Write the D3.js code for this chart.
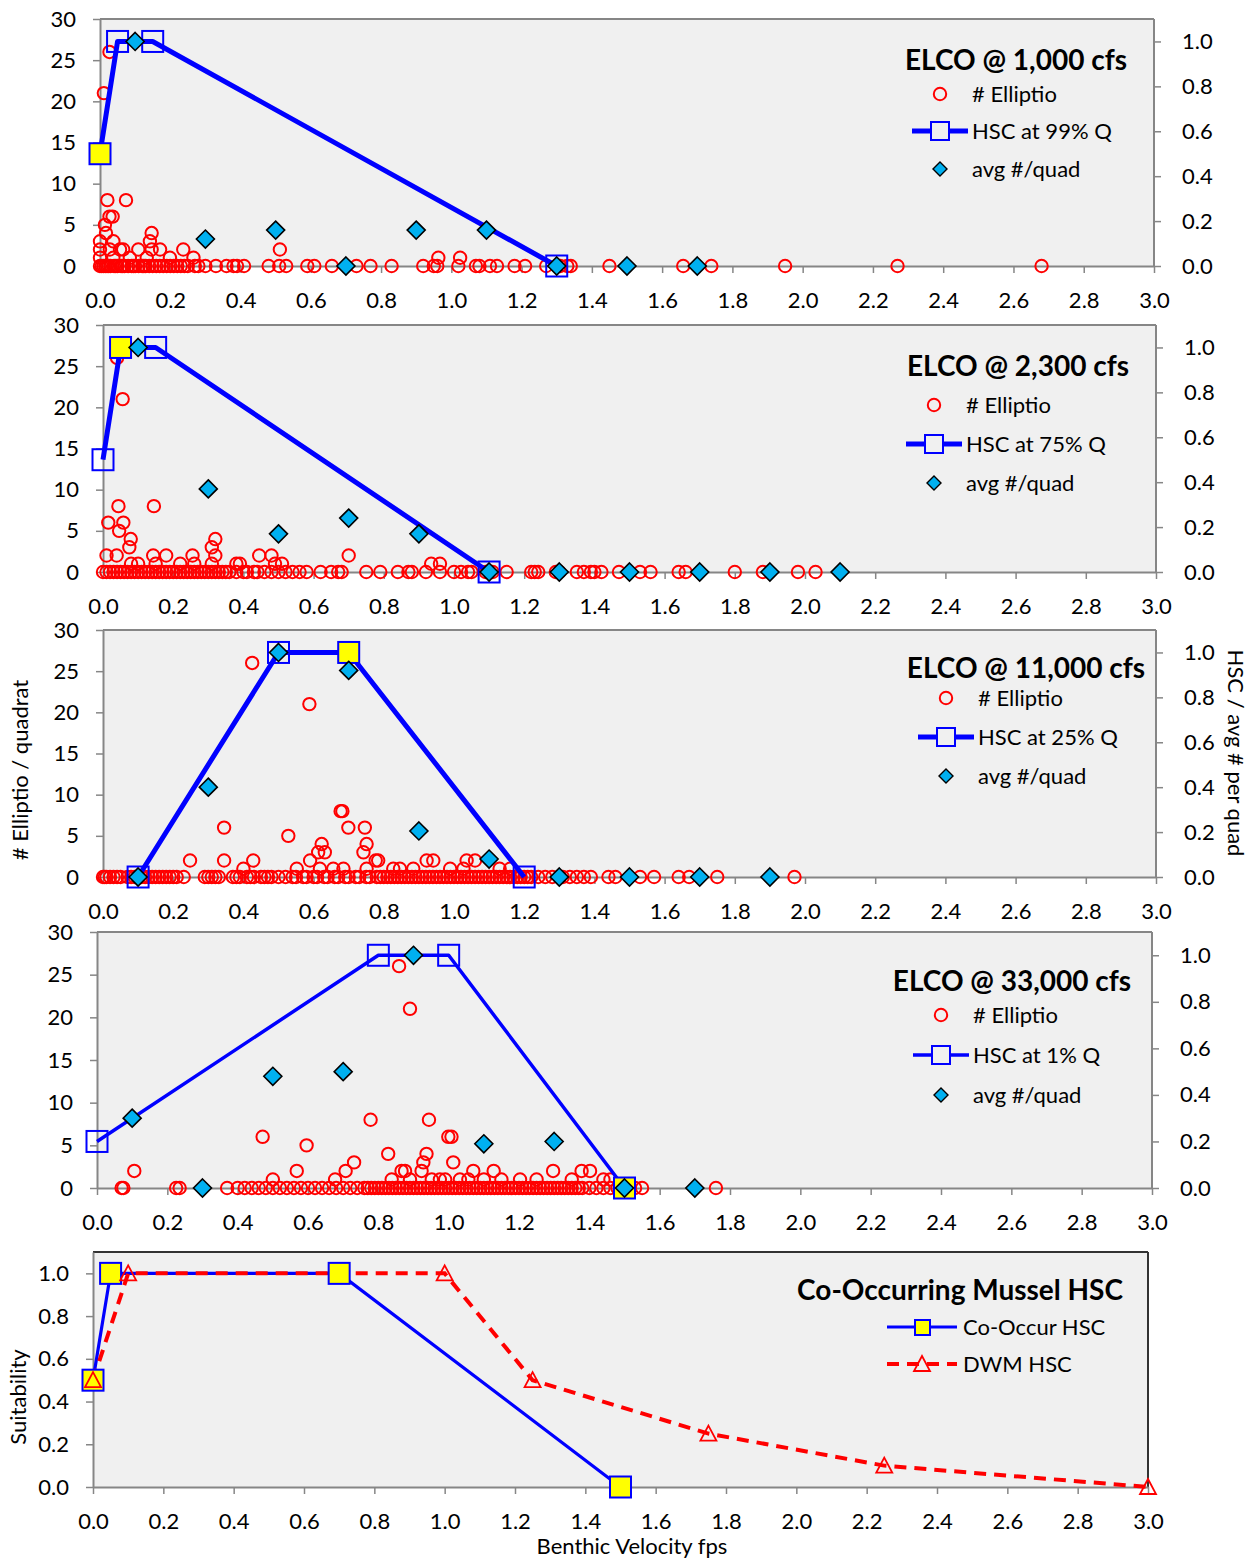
<!DOCTYPE html>
<html>
<head>
<meta charset="utf-8">
<script src="https://cdn.jsdelivr.net/npm/d3@7/dist/d3.min.js"></script>
<style>
body { margin: 0; background: #fff; }
svg text { font-family: Lato, "Open Sans", sans-serif; fill: #000; }
</style>
</head>
<body>
<script>
// ---- data ----
var xTicks = [0,0.2,0.4,0.6,0.8,1.0,1.2,1.4,1.6,1.8,2.0,2.2,2.4,2.6,2.8,3.0];
var leftTicks = [0,5,10,15,20,25,30];
var rightTicks = [0,0.2,0.4,0.6,0.8,1.0];

// panel 1: 1,000 cfs
var zeros1 = [0,0.005,0.01,0.015,0.02,0.025,0.03,0.04,0.045,0.05,0.06,0.065,0.07,0.08,0.09,0.095,0.1,0.11,0.12,0.125,0.13,0.14,0.15,0.16,0.17,0.18,0.19,0.2,0.21,0.22,0.23,0.24,0.25,0.27,0.28,
  0.3,0.33,0.36,0.38,0.39,0.41,0.48,0.51,0.53,0.59,0.61,0.66,0.73,0.77,0.83,0.92,0.95,0.96,1.02,1.07,1.08,1.11,1.13,1.18,1.21,1.27,1.31,1.33,1.34,1.45,1.66,1.74,1.95,2.27,2.68];
var counts1 = [[0.027,26],[0.011,21],[0.021,8],[0.074,8],[0.027,6],[0.036,6],[0.014,5],[0.017,4],[0.147,4],[0.0,3],[0.038,3],[0.142,3],
  [0.0,2],[0.028,2],[0.057,2],[0.066,2],[0.109,2],[0.147,2],[0.171,2],[0.237,2],[0.512,2],
  [0.0,1],[0.038,1],[0.085,1],[0.133,1],[0.199,1],[0.266,1],[0.963,1],[1.025,1]];
var hscV1 = [0,0.05,0.15,1.3];
var hscS1 = [0.5,1,1,0];
var avgV1 = [0.1,0.3,0.5,0.7,0.9,1.1,1.3,1.5,1.7];
var avg1 = [1.0,0.12,0.16,0,0.16,0.16,0,0,0];

// panel 2: 2,300 cfs
var zeros2 = [0,0.01,0.02,0.03,0.04,0.05,0.06,0.07,0.08,0.09,0.1,0.11,0.12,0.13,0.14,0.15,0.16,0.17,0.18,0.19,0.2,0.21,0.22,0.23,0.24,0.25,0.26,0.27,0.28,0.29,0.3,0.31,0.32,0.33,0.34,0.35,0.36,0.38,0.4,0.41,0.43,0.44,0.46,0.48,0.5,0.52,0.54,0.56,0.58,
  0.62,0.65,0.67,0.68,0.75,0.79,0.84,0.87,0.88,0.92,0.96,1.0,1.02,1.04,1.05,1.09,1.11,1.15,1.22,1.23,1.24,1.29,1.3,1.35,1.37,1.39,1.4,1.42,1.47,1.53,1.56,1.64,1.66,1.8,1.88,1.98,2.03];
var counts2 = [[0.04,26],[0.056,21],[0.044,8],[0.145,8],[0.015,6],[0.058,6],[0.046,5],[0.079,4],[0.32,4],[0.075,3],[0.31,3],
  [0.32,2],[0.01,2],[0.039,2],[0.143,2],[0.18,2],[0.255,2],[0.445,2],[0.48,2],[0.7,2],
  [0.935,1],[0.96,1],[0.08,1],[0.1,1],[0.15,1],[0.22,1],[0.26,1],[0.31,1],[0.38,1],[0.39,1],[0.49,1],[0.51,1]];
var hscV2 = [0,0.05,0.15,1.1];
var hscS2 = [0.5,1,1,0];
var avgV2 = [0.1,0.3,0.5,0.7,0.9,1.1,1.3,1.5,1.7,1.9,2.1];
var avg2 = [1.0,0.37,0.17,0.24,0.17,0,0,0,0,0,0];

// panel 3: 11,000 cfs
var zeros3 = [0,0.005,0.01,0.02,0.03,0.04,0.05,0.07,0.08,0.09,0.11,0.12,0.13,0.14,0.15,0.16,0.17,0.18,0.19,0.2,0.21,0.23,0.29,0.3,0.31,0.32,0.33,0.37,0.38,0.39,0.41,0.42,0.43,0.45,0.46,0.47,0.48,0.5,
  0.52,0.54,0.55,0.57,0.58,0.6,0.61,0.63,0.64,0.66,0.67,0.69,0.7,0.72,0.73,0.75,0.76,0.78,0.79,0.8,0.81,0.82,0.83,0.84,0.85,0.86,0.87,0.88,0.89,0.9,0.91,0.92,0.93,0.94,0.95,0.96,0.97,0.98,0.99,1.0,
  1.01,1.02,1.03,1.04,1.05,1.06,1.07,1.08,1.09,1.1,1.11,1.12,1.13,1.14,1.15,1.16,1.17,1.18,1.19,1.2,1.21,1.22,1.24,1.26,1.28,1.3,1.31,1.33,1.35,1.37,1.39,1.44,1.46,1.53,1.57,1.64,1.67,1.75,1.97];
var counts3 = [[0.425,26],[0.588,21],[0.682,8],[0.677,8],[0.345,6],[0.699,6],[0.746,6],[0.528,5],[0.751,4],[0.623,4],[0.613,3],[0.632,3],[0.742,3],
  [0.248,2],[0.345,2],[0.428,2],[0.59,2],[0.777,2],[0.784,2],[0.922,2],[0.941,2],[1.036,2],[1.06,2],
  [0.4,1],[0.552,1],[0.618,1],[0.656,1],[0.685,1],[0.751,1],[0.827,1],[0.846,1],[0.884,1],[0.989,1],[1.027,1],[1.13,1],[1.16,1]];
var hscV3 = [0.1,0.5,0.7,1.2];
var hscS3 = [0,1,1,0];
var avgV3 = [0.1,0.3,0.5,0.7,0.9,1.1,1.3,1.5,1.7,1.9];
var avg3 = [0,0.4,1.0,0.92,0.205,0.08,0,0,0,0];

// panel 4: 33,000 cfs
var zeros4 = [0.07,0.075,0.225,0.235,0.37,0.4,0.42,0.44,0.46,0.48,0.5,0.52,0.54,0.56,0.58,0.6,0.62,0.64,0.66,0.68,0.7,0.72,0.74,0.76,0.77,0.78,0.79,0.8,0.81,0.82,0.83,0.84,0.85,0.86,0.87,0.88,0.89,0.9,
  0.91,0.92,0.93,0.94,0.95,0.96,0.97,0.98,0.99,1.0,1.01,1.02,1.03,1.04,1.05,1.06,1.07,1.08,1.09,1.1,1.11,1.12,1.13,1.14,1.15,1.16,1.17,1.18,1.19,1.2,1.21,1.22,1.23,1.24,1.25,1.26,1.27,1.28,1.29,1.3,
  1.31,1.32,1.33,1.34,1.35,1.36,1.37,1.38,1.4,1.42,1.44,1.46,1.48,1.51,1.53,1.55,1.76];
var counts4 = [[0.859,26],[0.89,21],[0.778,8],[0.944,8],[0.471,6],[0.999,6],[1.008,6],[0.596,5],[0.828,4],[0.937,4],[1.013,3],[0.928,3],[0.731,3],
  [0.106,2],[0.568,2],[0.707,2],[0.923,2],[0.866,2],[0.876,2],[1.07,2],[1.128,2],[1.297,2],[1.378,2],[1.402,2],
  [0.5,1],[0.677,1],[0.838,1],[0.89,1],[0.952,1],[0.975,1],[0.99,1],[1.032,1],[1.056,1],[1.1,1],[1.15,1],[1.203,1],[1.25,1],[1.35,1],[1.44,1],[1.46,1]];
var hscV4 = [0,0.8,1.0,1.5];
var hscS4 = [0.2,1,1,0];
var avgV4 = [0.1,0.3,0.5,0.7,0.9,1.1,1.3,1.5,1.7];
var avg4 = [0.3,0,0.48,0.5,1.0,0.19,0.2,0,0];

// panel 5: co-occurring mussel HSC
var coV = [0,0.05,0.7,1.5];
var coS = [0.5,1,1,0];
var dwmV = [0,0.1,1.0,1.25,1.75,2.25,3.0];
var dwmS = [0.5,1,1,0.5,0.25,0.1,0];
var suitTicks = [0,0.2,0.4,0.6,0.8,1.0];

// ---- drawing ----
var svg = d3.select('body').append('svg').attr('width', 1251).attr('height', 1560);
var AX = '#868686', BG = '#f0f0f0', RED = '#ff0000', BLUE = '#0000ff', CYAN = '#00b0f0';
var diamond = 'M0,-9L9,0L0,9L-9,0Z';
var f1 = d3.format('.1f');
var R = 6.2;

function styleAxis(g) {
	g.select('.domain').attr('stroke', AX).attr('stroke-width', 2);
	g.selectAll('.tick line').attr('stroke', AX).attr('stroke-width', 1.5);
	g.selectAll('.tick text').attr('font-size', 22).attr('fill', '#000');
}

function drawFrame(p) {
	svg.append('rect').attr('x', p.x0).attr('y', p.y0).attr('width', p.x1 - p.x0).attr('height', p.y1 - p.y0).attr('fill', BG);
	svg.append('line').attr('x1', p.x0).attr('x2', p.x1).attr('y1', p.y0).attr('y2', p.y0)
		.attr('stroke', p.border || AX).attr('stroke-width', 2);
}

var panels = [
	{x0:100, x1:1154, y0:19, y1:266, title:'ELCO @ 1,000 cfs', hscName:'HSC at 99% Q', zeros:zeros1, counts:counts1,
	 hscV:hscV1, hscS:hscS1, hl:0, avgV:avgV1, avg:avg1, lw:5, lgX:940, lgY:[94,131,169], tX:1016, tY:60},
	{x0:103, x1:1156, y0:325, y1:572, title:'ELCO @ 2,300 cfs', hscName:'HSC at 75% Q', zeros:zeros2, counts:counts2,
	 hscV:hscV2, hscS:hscS2, hl:1, avgV:avgV2, avg:avg2, lw:5, lgX:934, lgY:[405,444,483], tX:1018, tY:366},
	{x0:103, x1:1156, y0:630, y1:877, title:'ELCO @ 11,000 cfs', hscName:'HSC at 25% Q', zeros:zeros3, counts:counts3,
	 hscV:hscV3, hscS:hscS3, hl:2, avgV:avgV3, avg:avg3, lw:5, lgX:946, lgY:[698,737,776], tX:1026, tY:668},
	{x0:97, x1:1152, y0:932, y1:1188, title:'ELCO @ 33,000 cfs', hscName:'HSC at 1% Q', zeros:zeros4, counts:counts4,
	 hscV:hscV4, hscS:hscS4, hl:3, avgV:avgV4, avg:avg4, lw:3.5, lgX:941, lgY:[1015,1055,1095], tX:1012, tY:981}
];

panels.forEach(function(p) {
	var x = d3.scaleLinear().domain([0, 3]).range([p.x0, p.x1]);
	var yL = d3.scaleLinear().domain([0, 30]).range([p.y1, p.y0]);
	var yR = d3.scaleLinear().domain([0, 1.1]).range([p.y1, p.y0]);

	drawFrame(p);

	svg.append('g').attr('transform', 'translate(0,' + p.y1 + ')')
		.call(d3.axisBottom(x).tickValues(xTicks).tickFormat(f1).tickSize(7).tickPadding(19).tickSizeOuter(0))
		.call(styleAxis);
	svg.append('g').attr('transform', 'translate(' + p.x0 + ',0)')
		.call(d3.axisLeft(yL).tickValues(leftTicks).tickSize(7).tickPadding(17).tickSizeOuter(0))
		.call(styleAxis);
	var gr = svg.append('g').attr('transform', 'translate(' + p.x1 + ',0)')
		.call(d3.axisRight(yR).tickValues(rightTicks).tickFormat(f1).tickSize(7).tickPadding(21).tickSizeOuter(0))
		.call(styleAxis);
	gr.select('.domain').attr('d', 'M0,' + p.y0 + 'V' + p.y1);

	// # Elliptio circles
	var pts = p.zeros.map(function(v) { return [v, 0]; }).concat(p.counts);
	svg.append('g').selectAll('circle')
		.data(pts)
		.enter().append('circle')
			.attr('cx', d => x(d[0]))
			.attr('cy', d => yL(d[1]))
			.attr('r', R)
			.attr('fill', 'none')
			.attr('stroke', RED)
			.attr('stroke-width', 2);

	// HSC line and squares
	var hsc = p.hscV.map((v, i) => [v, p.hscS[i]]);
	svg.append('path')
		.datum(hsc)
		.attr('d', d3.line().x(d => x(d[0])).y(d => yR(d[1])))
		.attr('fill', 'none')
		.attr('stroke', BLUE)
		.attr('stroke-width', p.lw)
		.attr('stroke-linejoin', 'round');
	svg.append('g').selectAll('rect')
		.data(hsc)
		.enter().append('rect')
			.attr('x', d => x(d[0]) - 10.5)
			.attr('y', d => yR(d[1]) - 10.5)
			.attr('width', 21)
			.attr('height', 21)
			.attr('fill', (d, i) => i === p.hl ? '#ffff00' : 'none')
			.attr('stroke', BLUE)
			.attr('stroke-width', 2);

	// avg #/quad diamonds
	svg.append('g').selectAll('path')
		.data(p.avgV.map((v, i) => [v, p.avg[i]]))
		.enter().append('path')
			.attr('d', diamond)
			.attr('transform', d => 'translate(' + x(d[0]) + ',' + yR(d[1]) + ')')
			.attr('fill', CYAN)
			.attr('stroke', '#000')
			.attr('stroke-width', 1.6);

	// legend
	svg.append('text').attr('x', p.tX).attr('y', p.tY + 10).attr('text-anchor', 'middle')
		.attr('font-size', 28).attr('font-weight', 'bold').text(p.title);
	var lg = svg.append('g');
	lg.append('circle').attr('cx', p.lgX).attr('cy', p.lgY[0]).attr('r', R)
		.attr('fill', 'none').attr('stroke', RED).attr('stroke-width', 2);
	lg.append('line').attr('x1', p.lgX - 28).attr('x2', p.lgX + 28).attr('y1', p.lgY[1]).attr('y2', p.lgY[1])
		.attr('stroke', BLUE).attr('stroke-width', p.lw);
	lg.append('rect').attr('x', p.lgX - 9).attr('y', p.lgY[1] - 9).attr('width', 18).attr('height', 18)
		.attr('fill', BG).attr('stroke', BLUE).attr('stroke-width', 2);
	lg.append('path').attr('d', 'M0,-7L7,0L0,7L-7,0Z').attr('transform', 'translate(' + p.lgX + ',' + p.lgY[2] + ')')
		.attr('fill', CYAN).attr('stroke', '#000').attr('stroke-width', 1.4);
	var names = ['# Elliptio', p.hscName, 'avg #/quad'];
	lg.selectAll('text.lab')
		.data(names)
		.enter().append('text')
			.attr('class', 'lab')
			.attr('x', p.lgX + 32)
			.attr('y', (d, i) => p.lgY[i] + 8)
			.attr('font-size', 22)
			.text(d => d);
});

// ---- panel 5 ----
var p5 = {x0:93, x1:1148, y0:1252, y1:1487, border:'#333'};
var x5 = d3.scaleLinear().domain([0, 3]).range([p5.x0, p5.x1]);
var y5 = d3.scaleLinear().domain([0, 1.1]).range([p5.y1, p5.y0]);
drawFrame(p5);
svg.append('line').attr('x1', p5.x1).attr('x2', p5.x1).attr('y1', p5.y0).attr('y2', p5.y1)
	.attr('stroke', '#333').attr('stroke-width', 2);
svg.append('g').attr('transform', 'translate(0,' + p5.y1 + ')')
	.call(d3.axisBottom(x5).tickValues(xTicks).tickFormat(f1).tickSize(7).tickPadding(19).tickSizeOuter(0))
	.call(styleAxis);
svg.append('g').attr('transform', 'translate(' + p5.x0 + ',0)')
	.call(d3.axisLeft(y5).tickValues(suitTicks).tickFormat(f1).tickSize(7).tickPadding(17).tickSizeOuter(0))
	.call(styleAxis);

var dwm = dwmV.map((v, i) => [v, dwmS[i]]);
var co = coV.map((v, i) => [v, coS[i]]);
var line5 = d3.line().x(d => x5(d[0])).y(d => y5(d[1]));
var tri = 'M0,-8L8,7L-8,7Z';

svg.append('path').datum(co).attr('d', line5)
	.attr('fill', 'none').attr('stroke', BLUE).attr('stroke-width', 3.2);
svg.append('path').datum(dwm).attr('d', line5)
	.attr('fill', 'none').attr('stroke', RED).attr('stroke-width', 4).attr('stroke-dasharray', '12,8');
svg.append('g').selectAll('rect')
	.data(co)
	.enter().append('rect')
		.attr('x', d => x5(d[0]) - 10.5)
		.attr('y', d => y5(d[1]) - 10.5)
		.attr('width', 21).attr('height', 21)
		.attr('fill', '#ffff00').attr('stroke', BLUE).attr('stroke-width', 2);
svg.append('g').selectAll('path')
	.data(dwm)
	.enter().append('path')
		.attr('d', tri)
		.attr('transform', d => 'translate(' + x5(d[0]) + ',' + y5(d[1]) + ')')
		.attr('fill', 'none').attr('stroke', RED).attr('stroke-width', 1.8);

svg.append('text').attr('x', 1123).attr('y', 1300).attr('text-anchor', 'end')
	.attr('font-size', 28).attr('font-weight', 'bold').text('Co-Occurring Mussel HSC');
svg.append('line').attr('x1', 887).attr('x2', 957).attr('y1', 1327).attr('y2', 1327)
	.attr('stroke', BLUE).attr('stroke-width', 3.2);
svg.append('rect').attr('x', 915).attr('y', 1320).attr('width', 15).attr('height', 15)
	.attr('fill', '#ffff00').attr('stroke', BLUE).attr('stroke-width', 2);
svg.append('line').attr('x1', 887).attr('x2', 957).attr('y1', 1364).attr('y2', 1364)
	.attr('stroke', RED).attr('stroke-width', 4).attr('stroke-dasharray', '12,8');
svg.append('path').attr('d', tri).attr('transform', 'translate(922,1364)')
	.attr('fill', 'none').attr('stroke', RED).attr('stroke-width', 1.8);
svg.append('text').attr('x', 963).attr('y', 1335).attr('font-size', 22).text('Co-Occur HSC');
svg.append('text').attr('x', 963).attr('y', 1372).attr('font-size', 22).text('DWM HSC');

// axis titles
svg.append('text').attr('transform', 'translate(28,770) rotate(-90)').attr('text-anchor', 'middle')
	.attr('font-size', 22).text('# Elliptio / quadrat');
svg.append('text').attr('transform', 'translate(1228,753) rotate(90)').attr('text-anchor', 'middle')
	.attr('font-size', 22).text('HSC / avg # per quad');
svg.append('text').attr('transform', 'translate(26,1397) rotate(-90)').attr('text-anchor', 'middle')
	.attr('font-size', 22).text('Suitability');
svg.append('text').attr('x', 632).attr('y', 1554).attr('text-anchor', 'middle')
	.attr('font-size', 22).text('Benthic Velocity fps');
</script>
</body>
</html>
